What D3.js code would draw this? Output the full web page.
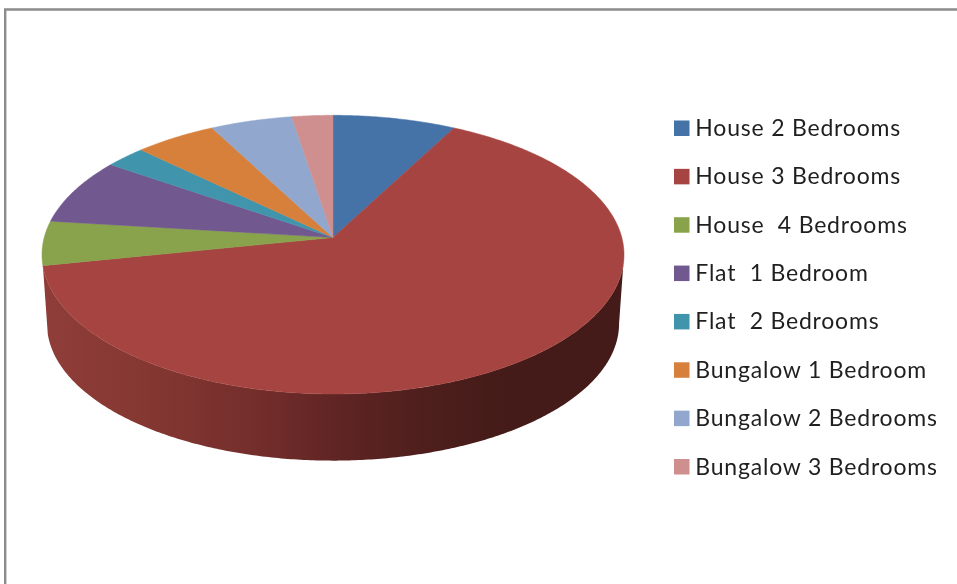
<!DOCTYPE html>
<html>
<head>
<meta charset="utf-8">
<script src="https://cdn.jsdelivr.net/npm/d3@7"></script>
<style>
    html, body { margin: 0; padding: 0; background: #fff; overflow: hidden; }
    svg { filter: blur(0.35px); }
    text { font-family: Lato, "Open Sans", sans-serif; white-space: pre; }
</style>
</head>
<body>
<div id="chart"></div>
<script>
const categories = ["House 2 Bedrooms", "House 3 Bedrooms", "House  4 Bedrooms", "Flat  1 Bedroom",
    "Flat  2 Bedrooms", "Bungalow 1 Bedroom", "Bungalow 2 Bedrooms", "Bungalow 3 Bedrooms"];
const values = [3, 25, 2, 3, 1, 2, 2, 1];
const colors = ["#4572a7", "#a64441", "#88a34c", "#71588f", "#4095ac", "#d6803b", "#92a7cd", "#cf8f8e"];
const wallStops = [
    [0, "#8f3d39"], [0.18, "#843731"], [0.36, "#742e2c"], [0.5, "#602524"], [0.68, "#4c1e1c"], [0.8, "#441b18"], [1, "#441b18"]
];

const dimensions = { width: 957, height: 584 };

const chart = d3.select("#chart")
    .append("svg")
    .attr("width", dimensions.width)
    .attr("height", dimensions.height)
    .style("display", "block");

// frame, open on the right and at the bottom
chart.append("path")
    .attr("d", `M5.2,${dimensions.height} V9.5 H${dimensions.width}`)
    .attr("fill", "none")
    .attr("stroke", "#8c8c8c")
    .attr("stroke-width", 2.4);

// perspective view of the pie: apex sits above the middle of the rim ellipse
const view = { cx: 333, apexY: 237.5, midY: 254.7, a: -0.1231, rx: 288.8, ry: 108, shrink: 0.983, depth: 69 };

function project(angle, floor) {
    const u = Math.sin(angle), v = -Math.cos(angle);
    const w = 1 + view.a * v;
    const x = view.rx * u / w;
    const y = (view.ry * v + view.apexY) / w;
    if (!floor) return [view.cx + x, y];
    return [view.cx + x * view.shrink, view.midY + (y - view.midY) * view.shrink + view.depth];
}

const apex = [view.cx, view.apexY];

const arcs = d3.pie().sort(null).value(d => d)(values);
const line = d3.line();

function rim(start, end, floor) {
    const n = Math.max(2, Math.ceil((end - start) / 0.01));
    return d3.range(n + 1).map(i => project(start + (end - start) * i / n, floor));
}

// side wall of the big slice
const gradient = chart.append("defs").append("linearGradient")
    .attr("id", "wall")
    .attr("gradientUnits", "userSpaceOnUse")
    .attr("x1", 48).attr("x2", 619).attr("y1", 0).attr("y2", 0);
gradient.selectAll("stop")
    .data(wallStops)
    .join("stop")
    .attr("offset", d => d[0])
    .attr("stop-color", d => d[1]);

const rightEdge = Math.PI / 2 + Math.asin(-view.a);
const wallEnd = arcs[1].endAngle;
chart.append("path")
    .attr("d", line(rim(rightEdge, wallEnd, false).concat(rim(rightEdge, wallEnd, true).reverse())) + "Z")
    .attr("fill", "url(#wall)");

// top face
chart.selectAll("path.slice")
    .data(arcs)
    .join("path")
    .attr("class", "slice")
    .attr("d", d => line([apex].concat(rim(d.startAngle, d.endAngle, false))) + "Z")
    .attr("fill", (d, i) => colors[i])
    .attr("stroke", (d, i) => colors[i])
    .attr("stroke-width", 0.5);

// legend
const legendY = d3.scalePoint()
    .domain(categories)
    .range([128.5, 467]);

const legend = chart.selectAll("g.legend")
    .data(categories)
    .join("g")
    .attr("class", "legend")
    .attr("transform", d => `translate(0, ${legendY(d)})`);

legend.append("rect")
    .attr("x", 674)
    .attr("y", -8)
    .attr("width", 15.5)
    .attr("height", 15.5)
    .attr("fill", (d, i) => colors[i]);

legend.append("text")
    .attr("x", 695.3)
    .attr("y", 7.5)
    .attr("font-size", 23)
    .attr("letter-spacing", 0.8)
    .attr("fill", "#1f1f1f")
    .text(d => d);
</script>
</body>
</html>
